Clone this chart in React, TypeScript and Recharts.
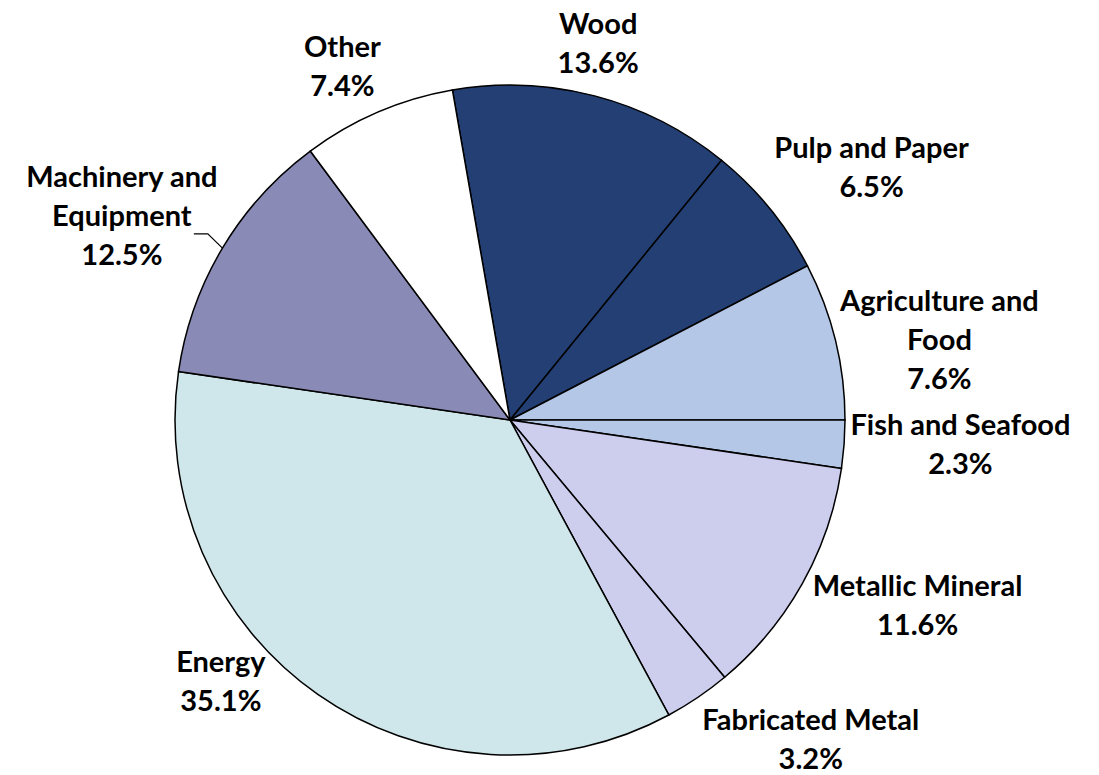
import React from "react";
import { PieChart, Pie, Cell } from "recharts";

// Sectors, clockwise from the top (Wood starts just left of 12 o'clock)
const sectors = [
  "Wood",
  "Pulp and Paper",
  "Agriculture and Food",
  "Fish and Seafood",
  "Metallic Mineral",
  "Fabricated Metal",
  "Energy",
  "Machinery and Equipment",
  "Other",
];
const shares = [13.6, 6.5, 7.6, 2.3, 11.6, 3.2, 35.1, 12.5, 7.4];

// how each label is broken into lines
const labelLines = [
  ["Wood"],
  ["Pulp and Paper"],
  ["Agriculture and", "Food"],
  ["Fish and Seafood"],
  ["Metallic Mineral"],
  ["Fabricated Metal"],
  ["Energy"],
  ["Machinery and", "Equipment"],
  ["Other"],
];

const COLORS = [
  "#233F73",
  "#233F73",
  "#B4C7E7",
  "#B4C7E7",
  "#CDCDEE",
  "#CDCDEE",
  "#CFE7EA",
  "#8A8AB6",
  "#FFFFFF",
];

// label placement: distance from centre and an angular nudge (degrees, clockwise)
const LABEL_DIST = [388, 442, 437, 451, 447, 438, 389, 439, 393];
const LABEL_NUDGE = [-1.5, 4, 3, -1.3, -5, -9.3, 13, -3, -2];

const data = sectors.map((name, i) => ({ name, value: shares[i] }));

const START = 99.9; // degrees, recharts convention (ccw from 3 o'clock)
const LINE_H = 39;
const RAD = Math.PI / 180;

const renderLabel = (props: any) => {
  const { cx, cy, midAngle, outerRadius, index } = props;
  // midAngle is ccw from 3 o'clock; convert to clockwise-from-top
  const cw = 90 - midAngle + LABEL_NUDGE[index];
  const d = LABEL_DIST[index];
  const x = cx + d * Math.sin(cw * RAD);
  const y = cy - d * Math.cos(cw * RAD);
  const lines = [...labelLines[index], `${shares[index].toFixed(1)}%`];
  const n = lines.length;
  let leader = null;
  if (sectors[index] === "Machinery and Equipment") {
    const m = (90 - midAngle) * RAD;
    const x0 = cx + outerRadius * Math.sin(m);
    const y0 = cy - outerRadius * Math.cos(m);
    const x1 = cx + (outerRadius + 24) * Math.sin(m) + 6;
    const y1 = cy - (outerRadius + 24) * Math.cos(m) - 2;
    leader = (
      <polyline
        points={`${x0},${y0} ${x1},${y1} ${x1 - 14},${y1}`}
        fill="none"
        stroke="#000"
        strokeWidth={1.2}
      />
    );
  }
  return (
    <g>
      {leader}
      <text
        textAnchor="middle"
        fontFamily="Lato, 'Noto Sans', sans-serif"
        fontWeight="bold"
        fontSize={29}
        fill="#000"
      >
        {lines.map((t, i) => (
          <tspan
            key={i}
            x={x}
            y={y + (i - (n - 1) / 2) * LINE_H}
            dominantBaseline="central"
          >
            {t}
          </tspan>
        ))}
      </text>
    </g>
  );
};

export default function App() {
  return (
    <div style={{ position: "absolute", left: 0, top: 0, background: "#fff" }}>
      <PieChart width={1099} height={775}>
        <Pie
          data={data}
          dataKey="value"
          nameKey="name"
          cx={505}
          cy={415}
          outerRadius={335}
          startAngle={START}
          endAngle={START - 360}
          stroke="#000"
          strokeWidth={1.5}
          label={renderLabel}
          labelLine={false}
          isAnimationActive={false}
        >
          {data.map((d, i) => (
            <Cell key={d.name} fill={COLORS[i]} />
          ))}
        </Pie>
      </PieChart>
    </div>
  );
}
